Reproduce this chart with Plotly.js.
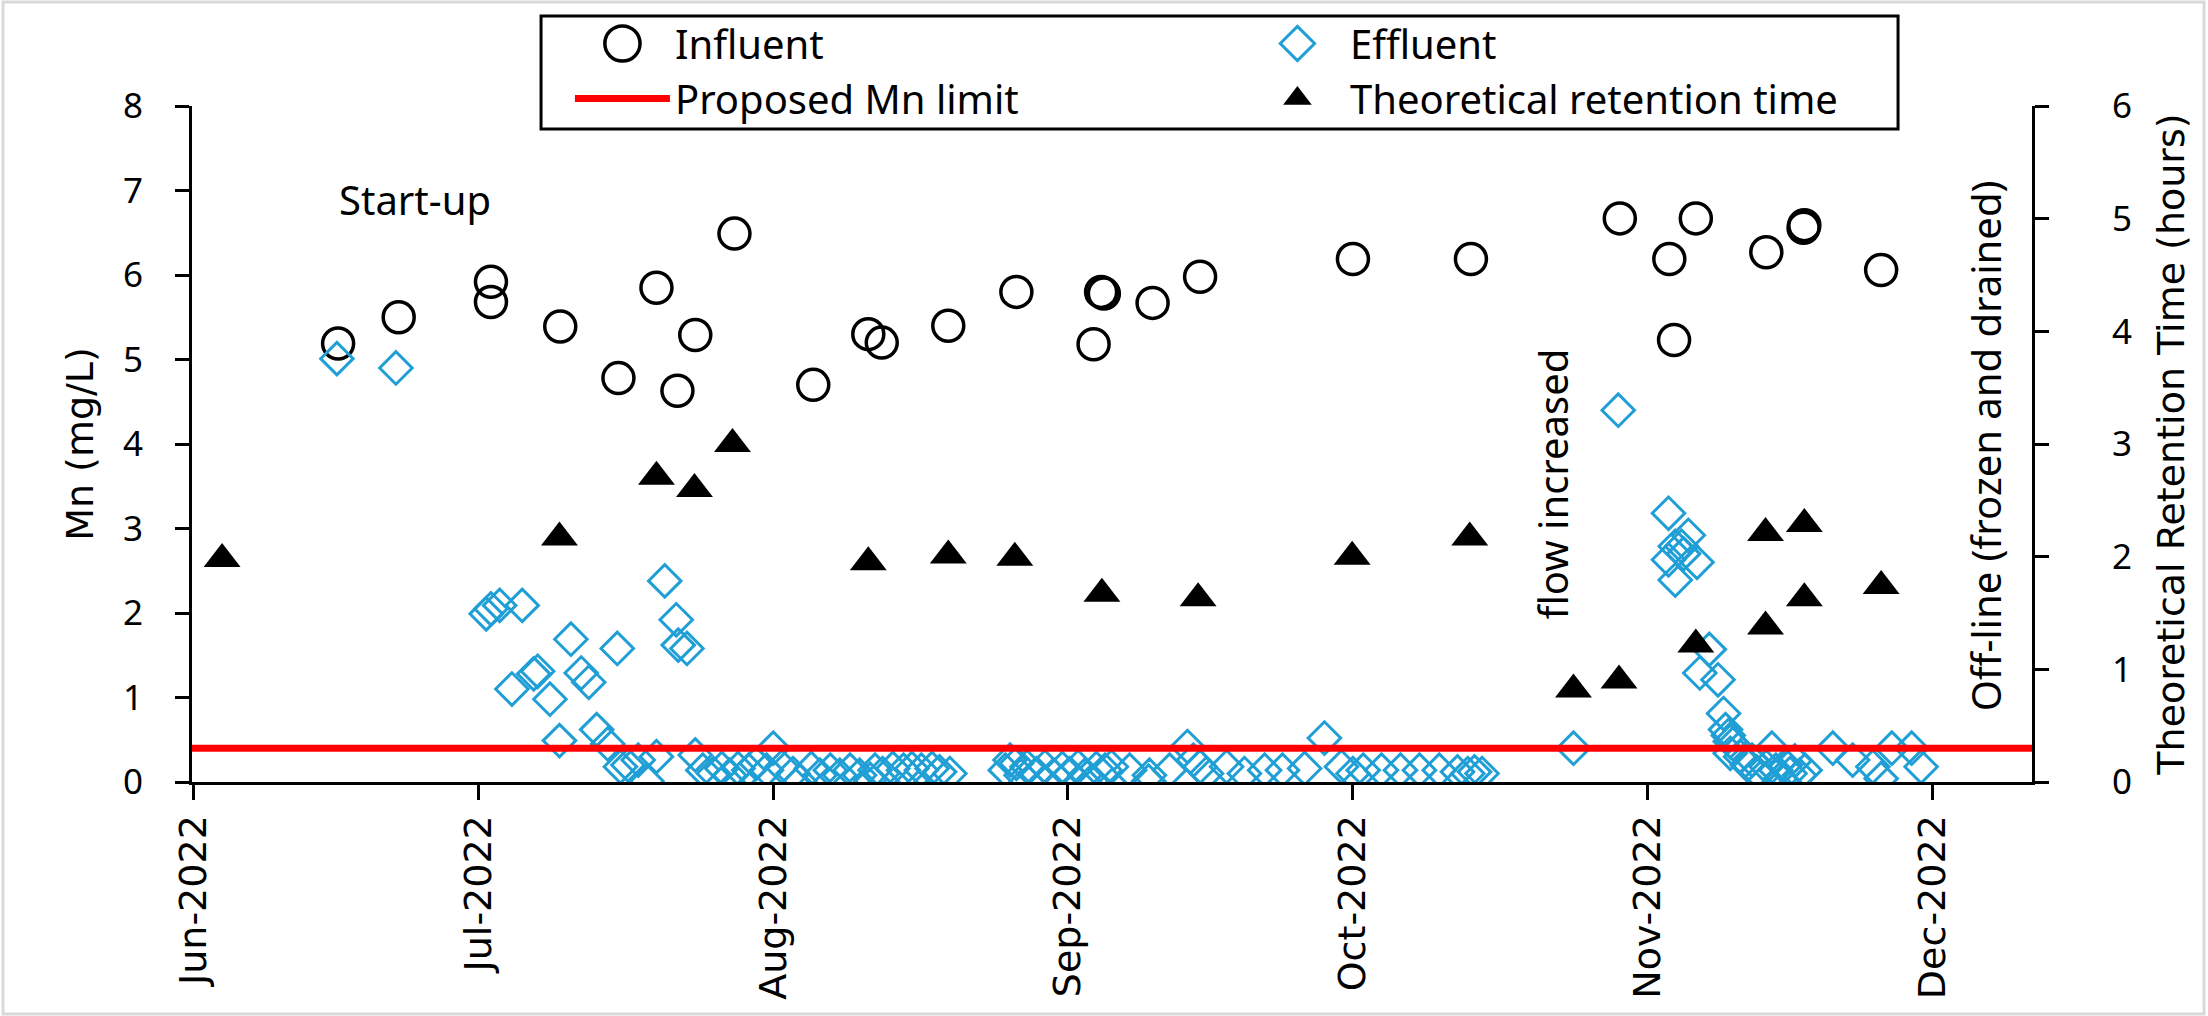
<!DOCTYPE html>
<html>
<head>
<meta charset="utf-8">
<script src="https://cdn.plot.ly/plotly-3.0.1.min.js"></script>
<style>
html,body{margin:0;padding:0;background:#fff;}
#chart{width:2208px;height:1016px;}
</style>
</head>
<body>
<div id="chart"></div>
<script>
// ---------------- DATA ----------------
const influentDates = [
  '2022-06-16 05:00','2022-06-22 14:00','2022-07-02 07:00','2022-07-02 07:00','2022-07-09 14:00',
  '2022-07-15 17:00','2022-07-19 17:00','2022-07-21 22:00','2022-07-23 19:00','2022-07-27 22:00',
  '2022-08-05 05:00','2022-08-11 00:00','2022-08-12 10:00','2022-08-19 10:00','2022-08-26 14:00',
  '2022-09-03 17:00','2022-09-04 12:00','2022-09-04 19:00','2022-09-09 22:00','2022-09-14 22:00',
  '2022-10-01 00:00','2022-10-13 10:00','2022-10-29 02:00','2022-11-03 07:00','2022-11-03 19:00',
  '2022-11-06 02:00','2022-11-13 12:00','2022-11-17 10:00','2022-11-17 12:00','2022-11-25 14:00'
];
const influentMn = [
  5.19, 5.50, 5.92, 5.68, 5.39,
  4.78, 5.85, 4.63, 5.29, 6.49,
  4.70, 5.30, 5.20, 5.40, 5.80,
  5.18, 5.80, 5.78, 5.67, 5.98,
  6.19, 6.19, 6.67, 6.19, 5.23,
  6.67, 6.27, 6.56, 6.59, 6.06
];

const effluentDates = [
  '2022-06-16 02:00','2022-06-22 07:00',
  '2022-07-01 19:00','2022-07-02 07:00','2022-07-03 05:00','2022-07-04 12:00','2022-07-05 14:00',
  '2022-07-06 19:00','2022-07-07 05:00','2022-07-08 12:00','2022-07-09 12:00','2022-07-10 17:00',
  '2022-07-11 19:00','2022-07-12 14:00','2022-07-13 10:00','2022-07-14 14:00','2022-07-15 14:00',
  '2022-07-15 22:00','2022-07-16 17:00','2022-07-17 19:00','2022-07-18 17:00','2022-07-19 17:00',
  '2022-07-20 14:00','2022-07-21 19:00','2022-07-22 00:00','2022-07-22 22:00','2022-07-23 19:00',
  '2022-07-24 14:00','2022-07-25 17:00','2022-07-26 14:00','2022-07-27 10:00','2022-07-28 07:00',
  '2022-07-29 10:00','2022-07-30 05:00','2022-07-31 07:00','2022-08-01 00:00','2022-08-01 22:00',
  '2022-08-03 02:00','2022-08-03 19:00','2022-08-05 00:00','2022-08-05 22:00','2022-08-07 00:00',
  '2022-08-08 00:00','2022-08-09 02:00','2022-08-10 02:00','2022-08-11 05:00','2022-08-11 17:00',
  '2022-08-12 12:00','2022-08-13 14:00','2022-08-14 17:00','2022-08-15 14:00','2022-08-16 14:00',
  '2022-08-17 17:00','2022-08-18 12:00','2022-08-19 14:00',
  '2022-08-25 10:00','2022-08-25 22:00','2022-08-26 14:00','2022-08-27 02:00','2022-08-27 17:00',
  '2022-08-28 17:00','2022-08-29 14:00','2022-08-30 12:00','2022-08-31 10:00','2022-09-01 05:00',
  '2022-09-02 02:00','2022-09-02 19:00','2022-09-03 12:00','2022-09-04 00:00','2022-09-04 22:00',
  '2022-09-05 14:00','2022-09-07 12:00','2022-09-09 12:00','2022-09-09 14:00','2022-09-11 17:00',
  '2022-09-13 14:00','2022-09-14 05:00','2022-09-14 22:00','2022-09-15 14:00','2022-09-17 17:00',
  '2022-09-19 14:00','2022-09-21 17:00','2022-09-23 14:00','2022-09-25 22:00','2022-09-28 00:00',
  '2022-09-29 19:00','2022-10-01 00:00','2022-10-02 02:00','2022-10-04 00:00','2022-10-06 00:00',
  '2022-10-08 00:00','2022-10-10 02:00','2022-10-12 00:00','2022-10-13 02:00','2022-10-13 19:00',
  '2022-10-14 14:00',
  '2022-10-24 05:00','2022-10-28 22:00',
  '2022-11-03 05:00','2022-11-03 05:00','2022-11-03 22:00','2022-11-03 22:00','2022-11-04 14:00',
  '2022-11-04 19:00','2022-11-05 07:00','2022-11-06 05:00','2022-11-06 12:00','2022-11-07 12:00',
  '2022-11-08 10:00','2022-11-09 00:00','2022-11-09 05:00','2022-11-09 12:00','2022-11-09 17:00',
  '2022-11-10 00:00','2022-11-09 17:00','2022-11-10 19:00','2022-11-11 12:00','2022-11-12 00:00',
  '2022-11-12 12:00','2022-11-13 00:00','2022-11-13 12:00','2022-11-14 02:00','2022-11-14 12:00',
  '2022-11-15 00:00','2022-11-15 12:00','2022-11-16 00:00','2022-11-16 12:00','2022-11-17 00:00',
  '2022-11-17 14:00','2022-11-20 12:00','2022-11-22 14:00','2022-11-24 17:00','2022-11-25 14:00',
  '2022-11-26 17:00','2022-11-28 19:00','2022-11-29 19:00'
];
const effluentMn = [
  5.01, 4.90,
  1.99, 2.05, 2.09, 1.10, 2.09,
  1.28, 1.31, 0.98, 0.49, 1.69,
  1.29, 1.18, 0.62, 0.45, 1.58,
  0.18, 0.20, 0.26, 0.01, 0.30,
  2.38, 1.92, 1.62, 1.58, 0.32,
  0.14, 0.10, 0.16, 0.08, 0.16,
  0.14, 0.22, 0.14, 0.40, 0.18,
  0.10, 0.01, 0.16, 0.08, 0.14,
  0.08, 0.14, 0.08, 0.03, 0.14,
  0.10, 0.16, 0.14, 0.16, 0.14,
  0.16, 0.12, 0.10,
  0.14, 0.26, 0.22, 0.08, 0.18,
  0.10, 0.18, 0.08, 0.16, 0.10,
  0.18, 0.08, 0.01, 0.16, 0.14,
  0.18, 0.14, 0.01, 0.08, 0.14,
  0.42, 0.26, 0.18, 0.10, 0.18,
  0.10, 0.14, 0.14, 0.16, 0.52,
  0.18, 0.10, 0.14, 0.14, 0.14,
  0.14, 0.14, 0.12, 0.10, 0.12,
  0.10,
  0.40, 4.40,
  3.18, 2.63, 2.79, 2.39, 2.79,
  2.70, 2.92, 2.60, 1.29, 1.57,
  1.21, 0.81, 0.62, 0.55, 0.48,
  0.45, 0.34, 0.30, 0.20, 0.26,
  0.12, 0.06, 0.18, 0.40, 0.14,
  0.04, 0.20, 0.10, 0.25, 0.08,
  0.14, 0.40, 0.26, 0.18, 0.04,
  0.40, 0.40, 0.18
];

const limitDates = ['2022-05-31 20:00', '2022-12-11 11:00'];
const limitMn = [0.4, 0.4];

const retentionDates = [
  '2022-06-04 00:00','2022-07-09 12:00','2022-07-19 17:00','2022-07-23 17:00','2022-07-27 17:00',
  '2022-08-11 00:00','2022-08-19 10:00','2022-08-26 10:00','2022-09-04 14:00','2022-09-14 17:00',
  '2022-09-30 22:00','2022-10-13 07:00','2022-10-24 05:00','2022-10-29 00:00','2022-11-06 02:00',
  '2022-11-13 10:00','2022-11-13 10:00','2022-11-17 12:00','2022-11-17 12:00','2022-11-25 14:00'
];
const retentionHours = [
  1.98, 2.17, 2.71, 2.60, 3.00,
  1.95, 2.01, 1.99, 1.67, 1.63,
  2.00, 2.17, 0.82, 0.90, 1.22,
  2.21, 1.38, 2.29, 1.63, 1.74
];

const xRange = ['2022-05-31 20:00', '2022-12-11 11:00'];
const monthTickStart = '2022-06-01';

// ---------------- STYLE ----------------
const CAL = "'Noto Sans', 'Open Sans', sans-serif";
const WIDE = "'DejaVu Sans', Verdana, sans-serif";
const BLUE = '#1f9fd5';

const traces = [
  {
    name: 'Influent', x: influentDates, y: influentMn, type: 'scatter', mode: 'markers',
    xaxis: 'x', yaxis: 'y',
    marker: {symbol: 'circle-open', size: 31, color: '#000', line: {width: 3.5, color: '#000'}}
  },
  {
    name: 'Effluent', x: effluentDates, y: effluentMn, type: 'scatter', mode: 'markers',
    xaxis: 'x', yaxis: 'y',
    marker: {symbol: 'diamond-open', size: 25, color: BLUE, line: {width: 3, color: BLUE}}
  },
  {
    name: 'Proposed Mn limit', x: limitDates, y: limitMn, type: 'scatter', mode: 'lines',
    xaxis: 'x', yaxis: 'y',
    line: {color: '#ff0000', width: 7}
  },
  {
    name: 'Theoretical retention time', x: retentionDates, y: retentionHours, type: 'scatter', mode: 'markers',
    xaxis: 'x', yaxis: 'y2',
    marker: {symbol: 'triangle-up', size: 32, color: '#000', line: {width: 0}}
  }
];

const layout = {
  width: 2208, height: 1016,
  margin: {l: 192, r: 176, t: 106, b: 234, pad: 0, autoexpand: false},
  paper_bgcolor: '#fff', plot_bgcolor: '#fff',
  showlegend: true,
  hovermode: false,
  font: {family: CAL, color: '#000', size: 35},
  xaxis: {
    type: 'date', range: xRange,
    tick0: monthTickStart, dtick: 'M1', tickformat: '%b-%Y', tickangle: -90,
    ticks: 'outside', ticklen: 15, tickwidth: 3, tickcolor: '#000',
    ticklabelstandoff: 0,
    tickfont: {family: WIDE, size: 38, color: '#000'},
    showline: true, linecolor: '#000', linewidth: 3,
    showgrid: false, zeroline: false, mirror: false
  },
  yaxis: {
    range: [0, 8], dtick: 1, tick0: 0,
    ticks: 'outside', ticklen: 14, tickwidth: 3, tickcolor: '#000',
    ticklabelstandoff: 25,
    tickfont: {family: CAL, size: 35, color: '#000'},
    showline: true, linecolor: '#000', linewidth: 3,
    showgrid: false, zeroline: false,
    title: {text: 'Mn (mg/L)', font: {family: WIDE, size: 38, color: '#000'}, standoff: 18}
  },
  yaxis2: {
    range: [0, 6], dtick: 1, tick0: 0,
    overlaying: 'y', side: 'right', anchor: 'x',
    ticks: 'outside', ticklen: 14, tickwidth: 3, tickcolor: '#000',
    ticklabelstandoff: 56,
    tickfont: {family: CAL, size: 35, color: '#000'},
    showline: true, linecolor: '#000', linewidth: 3,
    showgrid: false, zeroline: false,
    title: {text: 'Theoretical Retention Time (hours)', font: {family: WIDE, size: 38, color: '#000'}, standoff: 27}
  },
  legend: {
    orientation: 'h',
    x: 0.2054, xanchor: 'left',
    y: 1.1405, yanchor: 'top',
    bgcolor: 'rgba(0,0,0,0)', borderwidth: 0,
    font: {family: CAL, size: 40, color: '#000'},
    entrywidth: 565, entrywidthmode: 'pixels',
    itemwidth: 95,
    traceorder: 'normal'
  },
  annotations: [
    {text: 'Start-up', x: '2022-06-24 07:00', y: 6.89, xref: 'x', yref: 'y',
     showarrow: false, font: {family: CAL, size: 40, color: '#000'}},
    {text: 'flow increased', x: '2022-10-22 00:00', y: 3.53, xref: 'x', yref: 'y',
     textangle: -90, showarrow: false, font: {family: CAL, size: 40, color: '#000'}},
    {text: 'Off-line (frozen and drained)', x: '2022-12-06 14:00', y: 3.98, xref: 'x', yref: 'y',
     textangle: -90, showarrow: false, font: {family: CAL, size: 40, color: '#000'}}
  ],
  shapes: [
    // outer chart frame
    {type: 'rect', xref: 'paper', yref: 'paper',
     x0: -0.1027, x1: 1.0935, y0: -0.3432, y1: 1.1538,
     line: {color: '#d9d9d9', width: 3}, fillcolor: 'rgba(0,0,0,0)', layer: 'below'},
    // legend frame
    {type: 'rect', xref: 'paper', yref: 'paper',
     x0: 0.1897, x1: 0.9272, y0: 0.9660, y1: 1.1331,
     line: {color: '#000', width: 3}, fillcolor: '#fff', layer: 'above'}
  ]
};

Plotly.newPlot('chart', traces, layout, {staticPlot: true, displayModeBar: false}).then(function (gd) {
  // enlarge legend symbols to the size used in the plot
  const scales = [2.2, 1.65, 1.0, 1.55];
  gd.querySelectorAll('.legend .traces').forEach(function (g, i) {
    g.querySelectorAll('path.scatterpts').forEach(function (p) {
      const t = p.getAttribute('transform') || '';
      p.setAttribute('transform', t + ' scale(' + scales[i] + ')');
      p.style.vectorEffect = 'non-scaling-stroke';
    });
  });
});
</script>
</body>
</html>
